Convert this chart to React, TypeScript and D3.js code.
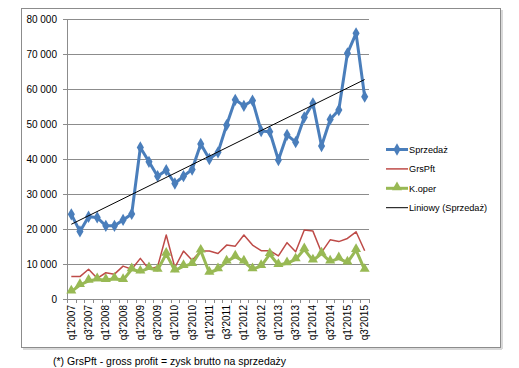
import * as d3 from "d3";

const quarters: string[] = [];
for (let y = 2007; y <= 2015; y++) {
  for (let q = 1; q <= 4; q++) {
    if (y === 2015 && q === 4) break;
    quarters.push(`q${q}'${y}`);
  }
}

const sprzedaz = [
  24200, 19300, 23500, 23300, 20900, 20900, 22600, 24300,
  43300, 39200, 35100, 36800, 33000, 35100, 37000, 44300,
  40000, 41900, 49700, 56900, 55200, 56700, 48000, 47800,
  39700, 46900, 44800, 51900, 55900, 43700, 51300, 54000,
  70200, 75900, 57800,
];

const grsPft = [
  6400, 6400, 8500, 5900, 7500, 7100, 9400, 8500,
  11600, 8500, 9200, 18300, 9000, 13700, 11100, 13700,
  13700, 13000, 15400, 15100, 18300, 15400, 13800, 13800,
  12300, 16100, 13500, 19700, 19400, 13300, 16900, 16400,
  17300, 19200, 13800,
];

const kOper = [
  2100, 4000, 5200, 5600, 5400, 5800, 5400, 8500,
  7800, 8800, 8300, 12900, 8100, 9400, 10000, 13800,
  7500, 8500, 10700, 12100, 10700, 8500, 9400, 12800,
  9700, 10200, 11300, 14200, 11000, 13000, 10700, 11600,
  10400, 14000, 8300,
];

const yTicks = [0, 10000, 20000, 30000, 40000, 50000, 60000, 70000, 80000];

const legendItems = [
  { label: "Sprzedaż", color: "#4A7EBB", width: 3, marker: "diamond" },
  { label: "GrsPft", color: "#BE4B48", width: 1.5, marker: "none" },
  { label: "K.oper", color: "#98B954", width: 3, marker: "triangle" },
  { label: "Liniowy (Sprzedaż)", color: "#000000", width: 1, marker: "none" },
];

const font = "'Liberation Sans', Arial, sans-serif";

export default function App() {
  const left = 67;
  const right = 369;
  const top = 19;
  const bottom = 299;

  const x = d3.scaleBand<string>().domain(quarters).range([left, right]);
  const cx = (i: number) => (x(quarters[i]) as number) + x.bandwidth() / 2;
  const y = d3.scaleLinear().domain([0, 80000]).range([bottom, top]);

  const line = d3
    .line<number>()
    .x((_, i) => cx(i))
    .y((d) => y(d));

  // linear trend (least squares)
  const n = sprzedaz.length;
  const xs = d3.range(1, n + 1);
  const mx = d3.mean(xs) as number;
  const my = d3.mean(sprzedaz) as number;
  const slope =
    d3.sum(xs, (v, i) => (v - mx) * (sprzedaz[i] - my)) /
    d3.sum(xs, (v) => (v - mx) * (v - mx));
  const icpt = my - slope * mx;
  const trend0 = icpt + slope * 1;
  const trend1 = icpt + slope * n;

  const diamond = d3.symbol().type(d3.symbolDiamond).size(44)() as string;
  const triangle = d3.symbol().type(d3.symbolTriangle).size(44)() as string;

  return (
    <svg width={519} height={368} style={{ position: "absolute", left: 0, top: 0 }}>
      <rect x={0} y={0} width={519} height={368} fill="#ffffff" />
      <rect x={21.5} y={8.5} width={479} height={339} fill="#ffffff" stroke="#8c8c8c" strokeWidth={1} />
      <line x1={502} y1={10} x2={502} y2={349} stroke="#d9d9d9" strokeWidth={2} />
      <line x1={23} y1={349} x2={502} y2={349} stroke="#d9d9d9" strokeWidth={2} />

      {/* gridlines + y labels */}
      {yTicks.map((t) => (
        <g key={t}>
          {t > 0 && (
            <line x1={left} x2={right} y1={Math.round(y(t)) + 0.5} y2={Math.round(y(t)) + 0.5} stroke="#8c8c8c" />
          )}
          <line x1={left - 4} x2={left} y1={Math.round(y(t)) + 0.5} y2={Math.round(y(t)) + 0.5} stroke="#8c8c8c" />
          <text
            x={57}
            y={y(t)}
            dy="0.35em"
            textAnchor="end"
            fontFamily={font}
            fontSize={10}
            fill="#000"
          >
            {d3.format(",")(t).replace(/,/g, " ")}
          </text>
        </g>
      ))}

      {/* axes */}
      <line x1={left + 0.5} x2={left + 0.5} y1={top} y2={bottom} stroke="#8c8c8c" />
      <line x1={left} x2={right} y1={bottom + 0.5} y2={bottom + 0.5} stroke="#8c8c8c" />
      {d3.range(quarters.length + 1).map((i) => {
        const xx = Math.round(left + i * x.step()) + 0.5;
        return <line key={i} x1={xx} x2={xx} y1={bottom} y2={bottom + 4} stroke="#8c8c8c" />;
      })}
      {quarters.map((q, i) =>
        i % 2 === 0 ? (
          <text
            key={q}
            transform={`translate(${cx(i)},305) rotate(-90)`}
            dy="0.35em"
            textAnchor="end"
            fontFamily={font}
            fontSize={10}
            fill="#000"
          >
            {q}
          </text>
        ) : null
      )}

      {/* series */}
      <path d={line(grsPft) as string} fill="none" stroke="#BE4B48" strokeWidth={1.5} strokeLinejoin="round" />
      <path d={line(kOper) as string} fill="none" stroke="#98B954" strokeWidth={3} strokeLinejoin="round" />
      {kOper.map((v, i) => (
        <path key={i} d={triangle} transform={`translate(${cx(i)},${y(v) - 1})`} fill="#98B954" />
      ))}
      <path d={line(sprzedaz) as string} fill="none" stroke="#4A7EBB" strokeWidth={3} strokeLinejoin="round" />
      {sprzedaz.map((v, i) => (
        <path key={i} d={diamond} transform={`translate(${cx(i)},${y(v)})`} fill="#4A7EBB" />
      ))}
      <line x1={cx(0)} y1={y(trend0)} x2={cx(n - 1)} y2={y(trend1)} stroke="#000" strokeWidth={1} />

      {/* legend */}
      {legendItems.map((it, i) => {
        const ly = 149.5 + i * 19.4;
        return (
          <g key={it.label}>
            <line x1={386} x2={408} y1={ly} y2={ly} stroke={it.color} strokeWidth={it.width} />
            {it.marker === "diamond" && <path d={diamond} transform={`translate(397,${ly})`} fill={it.color} />}
            {it.marker === "triangle" && <path d={triangle} transform={`translate(397,${ly - 1})`} fill={it.color} />}
            <text x={409} y={ly} dy="0.35em" fontFamily={font} fontSize={9.2} fill="#000">
              {it.label}
            </text>
          </g>
        );
      })}

      <text x={53} y={361} dy="0.35em" fontFamily={font} fontSize={10.5} fill="#000">
        (*) GrsPft - gross profit = zysk brutto na sprzedaży
      </text>
    </svg>
  );
}
